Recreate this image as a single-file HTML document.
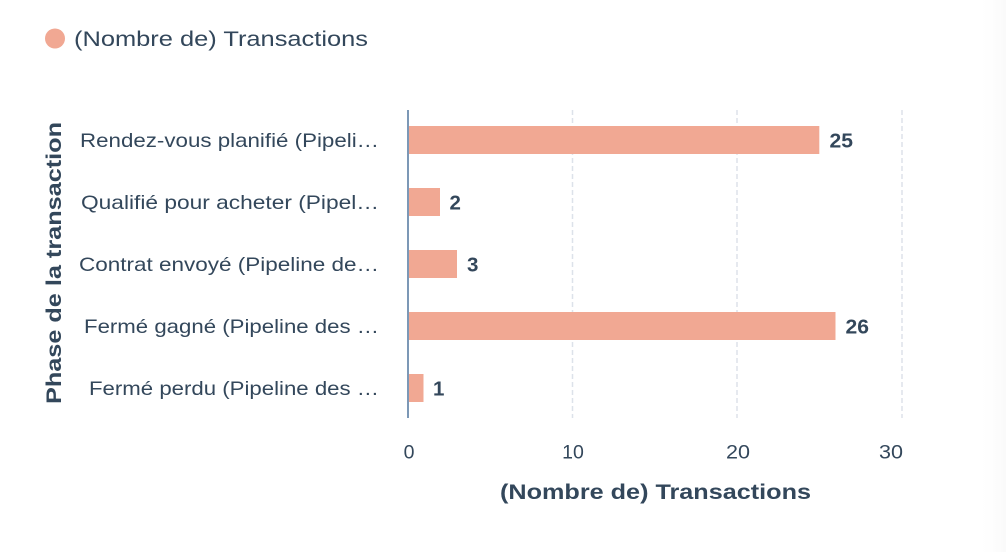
<!DOCTYPE html>
<html>
<head>
<meta charset="utf-8">
<style>
  html,body{margin:0;padding:0;background:#fff;}
  body{width:1006px;height:552px;overflow:hidden;position:relative;}
  svg{position:absolute;left:0;top:0;}
  text{font-family:"Liberation Sans",sans-serif;fill:#33475b;}
</style>
</head>
<body>
<svg width="1006" height="552" viewBox="0 0 1006 552" xmlns="http://www.w3.org/2000/svg">
  <defs>
    <linearGradient id="edge" x1="0" y1="0" x2="1" y2="0">
      <stop offset="0" stop-color="#ffffff" stop-opacity="0"/>
      <stop offset="1" stop-color="#f6f6f6" stop-opacity="1"/>
    </linearGradient>
  </defs>
  <rect x="0" y="0" width="1006" height="552" fill="#ffffff"/>
  <rect x="976" y="0" width="30" height="552" fill="url(#edge)" opacity="0.6"/>

  <!-- Legend -->
  <circle cx="55" cy="38.5" r="10" fill="#f1a893"/>
  <text x="74" y="46" font-size="21.5" textLength="294" lengthAdjust="spacingAndGlyphs">(Nombre de) Transactions</text>

  <!-- Grid lines -->
  <g stroke="#dde2ea" stroke-width="1.5" stroke-dasharray="5 3">
    <line x1="572.5" y1="110" x2="572.5" y2="418"/>
    <line x1="737" y1="110" x2="737" y2="418"/>
    <line x1="902" y1="110" x2="902" y2="418"/>
  </g>

  <!-- Bars -->
  <g fill="#f1a893">
    <rect x="409" y="126" width="410.3" height="28"/>
    <rect x="409" y="188" width="31" height="28"/>
    <rect x="409" y="250" width="48" height="28"/>
    <rect x="409" y="312" width="426.5" height="28"/>
    <rect x="409" y="374" width="14.5" height="28"/>
  </g>

  <!-- Axis line -->
  <line x1="408" y1="110" x2="408" y2="418" stroke="#7c98b6" stroke-width="2"/>

  <!-- Value labels -->
  <g font-weight="bold" font-size="20.5">
    <text x="829.5" y="147.5" textLength="23.5" lengthAdjust="spacingAndGlyphs">25</text>
    <text x="449.5" y="209.5">2</text>
    <text x="467" y="271.5">3</text>
    <text x="845.5" y="333.5" textLength="23.5" lengthAdjust="spacingAndGlyphs">26</text>
    <text x="433" y="395.5">1</text>
  </g>

  <!-- Category labels -->
  <g font-size="19.5" text-anchor="end">
    <text x="379" y="146.8" textLength="299" lengthAdjust="spacingAndGlyphs">Rendez-vous planifié (Pipeli…</text>
    <text x="379" y="208.8" textLength="298" lengthAdjust="spacingAndGlyphs">Qualifié pour acheter (Pipel…</text>
    <text x="379" y="270.8" textLength="300" lengthAdjust="spacingAndGlyphs">Contrat envoyé (Pipeline de…</text>
    <text x="379" y="332.8" textLength="295" lengthAdjust="spacingAndGlyphs">Fermé gagné (Pipeline des …</text>
    <text x="379" y="394.8" textLength="290" lengthAdjust="spacingAndGlyphs">Fermé perdu (Pipeline des …</text>
  </g>

  <!-- Y axis title -->
  <text transform="translate(61,263) rotate(-90)" text-anchor="middle" font-weight="bold" font-size="21.5" textLength="282" lengthAdjust="spacingAndGlyphs">Phase de la transaction</text>

  <!-- X tick labels -->
  <g font-size="19.5">
    <text x="409" y="458.5" text-anchor="middle">0</text>
    <text x="573" y="458.5" text-anchor="middle" textLength="21.7" lengthAdjust="spacingAndGlyphs">10</text>
    <text x="738" y="458.5" text-anchor="middle" textLength="24" lengthAdjust="spacingAndGlyphs">20</text>
    <text x="903" y="458.5" text-anchor="end" textLength="24" lengthAdjust="spacingAndGlyphs">30</text>
  </g>

  <!-- X axis title -->
  <text x="500" y="499" font-weight="bold" font-size="21.5" textLength="311" lengthAdjust="spacingAndGlyphs">(Nombre de) Transactions</text>
</svg>
</body>
</html>
